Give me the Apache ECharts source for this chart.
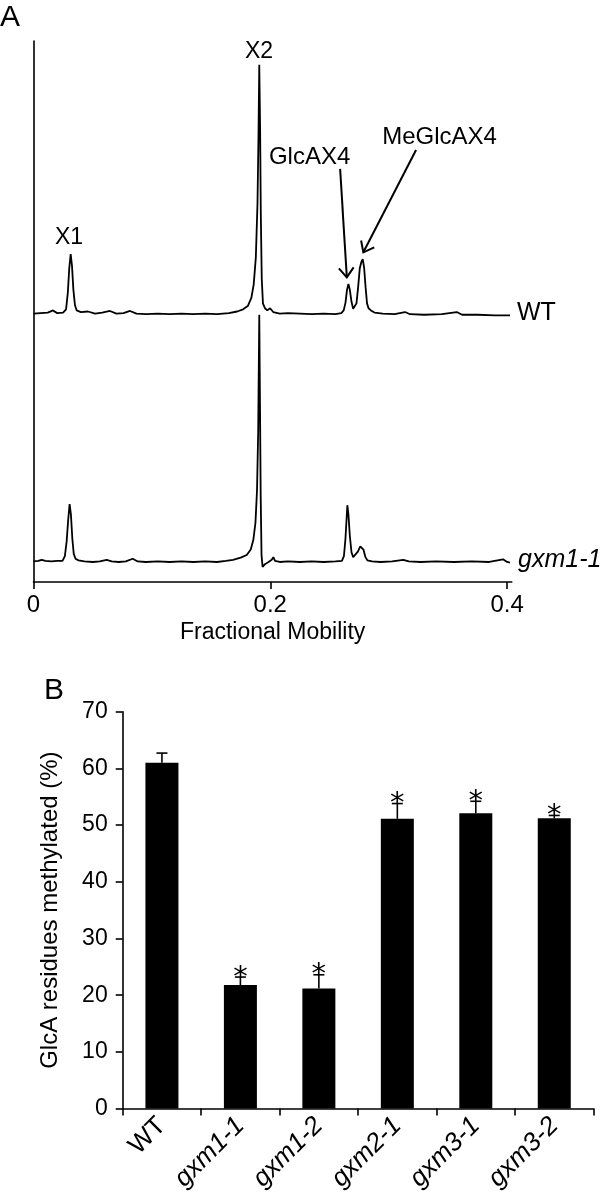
<!DOCTYPE html>
<html><head><meta charset="utf-8">
<script src="https://cdn.jsdelivr.net/npm/echarts@6/dist/echarts.min.js"></script>
<style>html,body{margin:0;padding:0;background:#fff}#c{width:600px;height:1197px}</style>
</head><body><div id="c"></div>
<script>
// ---------- Panel A data ----------
const mobilityTicks = [0, 0.2, 0.4];
const traceNames = ['WT', 'gxm1-1'];
const wtTrace = [[0.000,49.6],[0.006,49.7],[0.012,49.8],[0.0165,50.2],[0.020,49.7],[0.025,49.8],[0.0275,50.4],[0.0290,53.5],[0.0302,58.0],[0.0314,60.6],[0.0325,58.5],[0.0337,54.0],[0.0350,51.2],[0.0365,50.2],[0.040,49.9],[0.046,50.0],[0.052,49.6],[0.058,49.8],[0.0646,50.1],[0.070,49.6],[0.076,49.7],[0.0815,50.1],[0.087,49.6],[0.095,49.5],[0.105,49.6],[0.115,49.5],[0.125,49.6],[0.135,49.5],[0.145,49.6],[0.155,49.5],[0.165,49.7],[0.172,50.0],[0.177,50.4],[0.1810,51.0],[0.1840,52.5],[0.1860,55.0],[0.1878,60.0],[0.1892,70.0],[0.1900,82.0],[0.1907,95.6],[0.1914,84.0],[0.1920,68.0],[0.1928,56.0],[0.1938,51.5],[0.1955,50.6],[0.1975,50.2],[0.1998,50.6],[0.2025,49.9],[0.208,49.6],[0.215,49.7],[0.225,49.6],[0.235,49.5],[0.245,49.6],[0.255,49.5],[0.2600,49.7],[0.2620,50.2],[0.2635,51.6],[0.2648,54.0],[0.2660,55.1],[0.2672,54.0],[0.2686,51.8],[0.2700,50.5],[0.2714,50.3],[0.2728,51.5],[0.2742,54.5],[0.2756,58.0],[0.2770,59.2],[0.2781,59.7],[0.2793,58.0],[0.2805,54.5],[0.2817,51.5],[0.2830,50.6],[0.2850,50.2],[0.2880,49.8],[0.295,49.6],[0.305,49.5],[0.3138,49.9],[0.318,49.5],[0.330,49.4],[0.345,49.5],[0.3575,49.9],[0.362,49.4],[0.375,49.4],[0.390,49.3],[0.4025,49.3]];
const gxmTrace = [[0.000,3.8],[0.004,3.9],[0.007,4.1],[0.010,3.9],[0.015,3.8],[0.020,3.9],[0.0245,3.9],[0.0265,4.8],[0.0280,7.5],[0.0293,11.5],[0.0305,14.4],[0.0316,12.5],[0.0328,8.0],[0.0340,5.2],[0.0355,4.3],[0.038,4.0],[0.043,3.8],[0.050,3.7],[0.056,3.8],[0.0618,4.1],[0.066,3.8],[0.072,3.7],[0.078,3.8],[0.0838,4.3],[0.088,3.8],[0.095,3.7],[0.105,3.8],[0.115,3.7],[0.125,3.8],[0.135,3.7],[0.145,3.8],[0.155,3.7],[0.1625,3.9],[0.1685,4.1],[0.1750,4.5],[0.1801,5.0],[0.1835,6.0],[0.1857,7.8],[0.1875,11.0],[0.1888,17.0],[0.1898,28.0],[0.1907,49.4],[0.1913,33.0],[0.1919,16.0],[0.1926,5.0],[0.1935,2.8],[0.1955,3.3],[0.1985,3.7],[0.2012,4.1],[0.2026,4.6],[0.2040,3.9],[0.208,3.7],[0.215,3.8],[0.225,3.7],[0.235,3.8],[0.245,3.7],[0.255,3.8],[0.2605,3.9],[0.2622,4.8],[0.2635,8.0],[0.2644,11.5],[0.2651,14.2],[0.2660,12.5],[0.2672,8.5],[0.2686,5.5],[0.2700,4.6],[0.2716,4.6],[0.2740,5.6],[0.2760,6.6],[0.2773,6.8],[0.2787,6.0],[0.2802,4.7],[0.2820,4.0],[0.2860,3.8],[0.293,3.7],[0.303,3.8],[0.3124,4.1],[0.317,3.8],[0.327,3.7],[0.340,3.8],[0.355,3.7],[0.370,3.8],[0.385,3.7],[0.3966,4.2],[0.400,3.7],[0.4025,3.6]];
const peakNames = ['X1', 'X2', 'GlcAX4', 'MeGlcAX4'];
const peakMobility = [0.0314, 0.1907, 0.2660, 0.2781];
const peakHeightWT = [60.6, 95.6, 55.1, 59.7];

// ---------- Panel B data ----------
const categories = ['WT', 'gxm1-1', 'gxm1-2', 'gxm2-1', 'gxm3-1', 'gxm3-2'];
const methylated = [61.0, 21.8, 21.2, 51.1, 52.1, 51.2];
const errUpper = [1.7, 1.4, 2.4, 2.7, 2.1, 0.5];
const significance = ['', '*', '*', '*', '*', '*'];

const FONT = '"Liberation Sans", Arial, Helvetica, sans-serif';
const chart = echarts.init(document.getElementById('c'), null, {renderer: 'canvas'});

const option = {
  backgroundColor: '#fff',
  animation: false,
  textStyle: {fontFamily: FONT, color: '#000'},
  grid: [
    {left: 33.5, top: 41, width: 478.3, height: 541},
    {left: 122.7, top: 711.7, width: 470.8, height: 396.9}
  ],
  xAxis: [
    {
      gridIndex: 0, type: 'value', min: 0, max: 0.404,
      axisLine: {lineStyle: {color: '#000', width: 1.6}},
      axisTick: {show: true, length: 7, inside: false, customValues: mobilityTicks, lineStyle: {color: '#000', width: 1.6}},
      axisLabel: {customValues: mobilityTicks, fontSize: 24, color: '#000', fontFamily: FONT, margin: 11,
                  formatter: v => (v === 0 ? '0' : String(v))},
      splitLine: {show: false},
      name: 'Fractional Mobility', nameLocation: 'middle', nameGap: 39,
      nameTextStyle: {fontSize: 23, color: '#000', fontFamily: FONT}
    },
    {
      gridIndex: 1, type: 'category', data: categories, boundaryGap: true,
      axisLine: {lineStyle: {color: '#000', width: 1.6}},
      axisTick: {show: true, length: 7, interval: 0, alignWithLabel: false, lineStyle: {color: '#000', width: 1.6}},
      axisLabel: {
        interval: 0, rotate: 45, margin: 13,
        formatter: v => (v === 'WT' ? '{n|' + v + '}' : '{i|' + v + '}'),
        rich: {
          n: {fontSize: 26, fontFamily: FONT, color: '#000'},
          i: {fontSize: 26, fontFamily: FONT, color: '#000', fontStyle: 'italic'}
        }
      },
      splitLine: {show: false}
    }
  ],
  yAxis: [
    {
      gridIndex: 0, type: 'value', min: 0, max: 100,
      axisLine: {show: true, lineStyle: {color: '#000', width: 1.6}},
      axisTick: {show: false}, axisLabel: {show: false}, splitLine: {show: false}
    },
    {
      gridIndex: 1, type: 'value', min: 0, max: 70, interval: 10,
      axisLine: {show: true, lineStyle: {color: '#000', width: 1.6}},
      axisTick: {show: true, length: 7, lineStyle: {color: '#000', width: 1.6}},
      axisLabel: {fontSize: 23, color: '#000', fontFamily: FONT, margin: 15},
      splitLine: {show: false},
      name: 'GlcA residues methylated (%)', nameLocation: 'middle', nameGap: 60, nameRotate: 90,
      nameTextStyle: {fontSize: 24, color: '#000', fontFamily: FONT}
    }
  ],
  series: [
    {
      name: traceNames[0], type: 'line', xAxisIndex: 0, yAxisIndex: 0, data: wtTrace,
      showSymbol: false, symbol: 'none', smooth: false,
      lineStyle: {color: '#000', width: 1.8}
    },
    {
      name: traceNames[1], type: 'line', xAxisIndex: 0, yAxisIndex: 0, data: gxmTrace,
      showSymbol: false, symbol: 'none', smooth: false,
      lineStyle: {color: '#000', width: 1.8}
    },
    {
      type: 'bar', xAxisIndex: 1, yAxisIndex: 1, data: methylated,
      barWidth: 33, itemStyle: {color: '#000'}
    },
    {
      type: 'custom', xAxisIndex: 1, yAxisIndex: 1, z: 5,
      data: categories.map((c, i) => [i, methylated[i], methylated[i] + errUpper[i]]),
      encode: {x: 0, y: [1, 2]},
      renderItem: function (params, api) {
        const top = api.coord([api.value(0), api.value(2)]);
        const base = api.coord([api.value(0), api.value(1)]);
        const children = [
          {type: 'line', shape: {x1: top[0], y1: base[1], x2: top[0], y2: top[1]}, style: {stroke: '#000', lineWidth: 1.6}},
          {type: 'line', shape: {x1: top[0] - 5.5, y1: top[1], x2: top[0] + 5.5, y2: top[1]}, style: {stroke: '#000', lineWidth: 1.6}}
        ];
        const s = significance[params.dataIndex];
        if (s) {
          children.push({type: 'text', x: top[0], y: top[1] + 1,
            style: {text: s, fill: '#000', font: '29px "DejaVu Sans"', textAlign: 'center', textVerticalAlign: 'middle'}});
        }
        return {type: 'group', children: children};
      }
    }
  ]
};
chart.setOption(option);

// ---------- annotations for panel A (positions derived from data coordinates) ----------
function px(m, v) { return chart.convertToPixel({xAxisIndex: 0, yAxisIndex: 0}, [m, v]); }
function txt(t, x, y, align, italic, size) {
  return {type: 'text', x: x, y: y, silent: true,
    style: {text: t, fill: '#000', font: (italic ? 'italic ' : '') + (size || 23) + 'px ' + FONT,
            textAlign: align || 'center', textVerticalAlign: 'middle'}};
}
function arrow(tail, tip) {
  const dx = tail[0] - tip[0], dy = tail[1] - tip[1];
  const L = Math.sqrt(dx * dx + dy * dy), ux = dx / L, uy = dy / L;
  const a = 38 * Math.PI / 180, h = 12;
  const r1 = [tip[0] + h * (ux * Math.cos(a) - uy * Math.sin(a)), tip[1] + h * (ux * Math.sin(a) + uy * Math.cos(a))];
  const r2 = [tip[0] + h * (ux * Math.cos(-a) - uy * Math.sin(-a)), tip[1] + h * (ux * Math.sin(-a) + uy * Math.cos(-a))];
  return [
    {type: 'line', silent: true, shape: {x1: tail[0], y1: tail[1], x2: tip[0], y2: tip[1]}, style: {stroke: '#000', lineWidth: 2}},
    {type: 'polyline', silent: true, shape: {points: [r1, tip, r2]}, style: {stroke: '#000', lineWidth: 2, fill: null}}
  ];
}
const P = peakNames.map((n, i) => px(peakMobility[i], peakHeightWT[i]));
const wtEnd = px(wtTrace[wtTrace.length - 1][0], wtTrace[wtTrace.length - 1][1]);
const gxEnd = px(gxmTrace[gxmTrace.length - 1][0], gxmTrace[gxmTrace.length - 1][1]);
const elements = [
  {type: 'text', x: 0, y: 18, style: {text: 'A', fill: '#000', font: '30px ' + FONT, textVerticalAlign: 'middle'}},
  {type: 'text', x: 44, y: 691, style: {text: 'B', fill: '#000', font: '30px ' + FONT, textVerticalAlign: 'middle'}},
  txt(peakNames[0], P[0][0] - 1.7, P[0][1] - 16),
  txt(peakNames[1], P[1][0] - 0.3, P[1][1] - 13),
  txt(peakNames[2], P[2][0] - 38.8, P[2][1] - 126.6, 'center', false, 24),
  txt(peakNames[3], P[3][0] + 76.8, P[3][1] - 121.5, 'center', false, 24),
  txt(traceNames[0], wtEnd[0] + 7, wtEnd[1] - 2, 'left', false, 25),
  txt(traceNames[1], gxEnd[0] + 8, gxEnd[1] - 2, 'left', true, 25)
].concat(
  arrow([P[2][0] - 8.3, P[2][1] - 115], [P[2][0] - 1.6, P[2][1] - 6.6]),
  arrow([P[3][0] + 53.3, P[3][1] - 109], [P[3][0] + 0.6, P[3][1] - 6.7])
);
chart.setOption({graphic: {elements: elements}});
</script>
</body></html>
